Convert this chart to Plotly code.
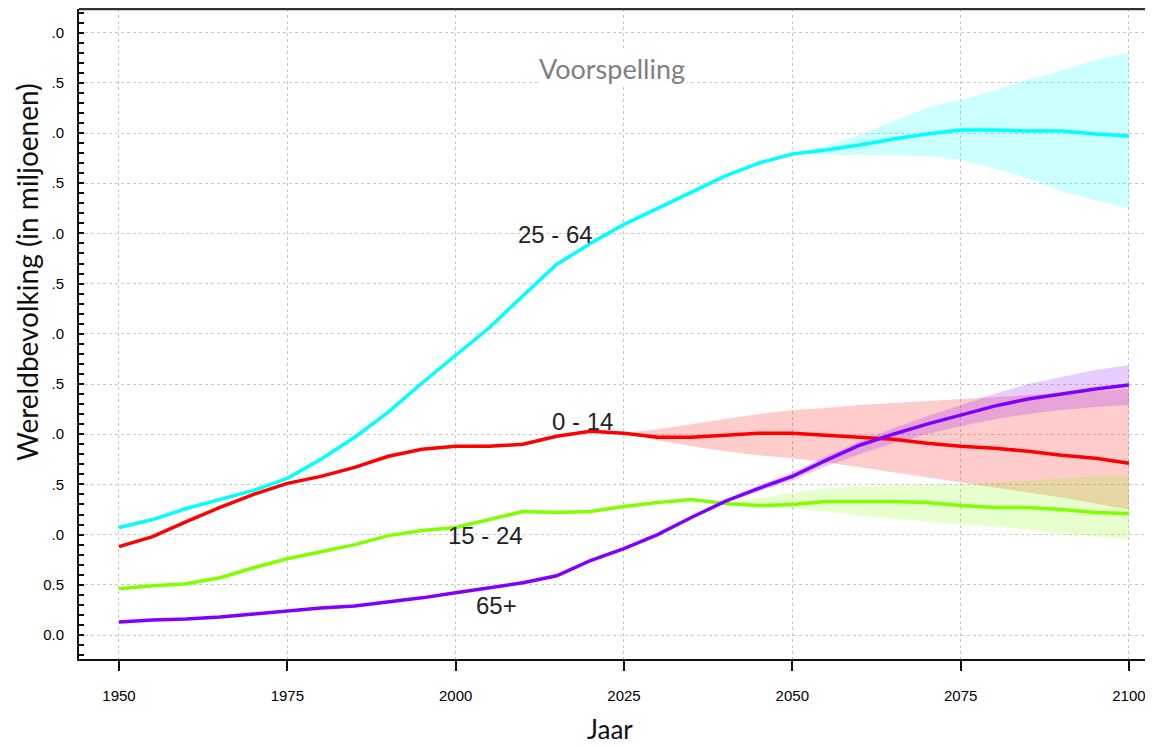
import plotly.graph_objects as go

years = list(range(1950, 2101, 5))

age_25_64 = [1.07, 1.15, 1.26, 1.35, 1.44, 1.56, 1.75, 1.97, 2.22, 2.51, 2.79, 3.06, 3.38, 3.69, 3.90,
             4.09, 4.25, 4.41, 4.57, 4.70, 4.79, 4.83, 4.88, 4.94, 4.99, 5.03, 5.03, 5.02, 5.02, 4.99, 4.97]
age_0_14 = [0.88, 0.98, 1.13, 1.27, 1.40, 1.51, 1.58, 1.67, 1.78, 1.85, 1.88, 1.88, 1.90, 1.98, 2.03,
            2.01, 1.97, 1.97, 1.99, 2.01, 2.01, 1.99, 1.97, 1.95, 1.91, 1.88, 1.86, 1.83, 1.79, 1.76, 1.71]
age_15_24 = [0.46, 0.49, 0.51, 0.57, 0.67, 0.76, 0.83, 0.90, 0.99, 1.04, 1.07, 1.15, 1.23, 1.22, 1.23,
             1.28, 1.32, 1.35, 1.31, 1.29, 1.30, 1.33, 1.33, 1.33, 1.32, 1.29, 1.27, 1.27, 1.25, 1.22, 1.21]
age_65 = [0.13, 0.15, 0.16, 0.18, 0.21, 0.24, 0.27, 0.29, 0.33, 0.37, 0.42, 0.47, 0.52, 0.59, 0.74,
          0.86, 1.00, 1.17, 1.33, 1.46, 1.58, 1.74, 1.89, 2.00, 2.10, 2.19, 2.28, 2.35, 2.40, 2.45, 2.49]

# projection bands
band_years_25_64 = list(range(2050, 2101, 5))
upper_25_64 = [4.79, 4.87, 4.98, 5.12, 5.25, 5.33, 5.42, 5.53, 5.62, 5.73, 5.80]
lower_25_64 = [4.79, 4.78, 4.78, 4.78, 4.77, 4.73, 4.65, 4.55, 4.42, 4.33, 4.25]

band_years_0_14 = list(range(2025, 2101, 5))
upper_0_14 = [2.01, 2.05, 2.10, 2.15, 2.20, 2.24, 2.26, 2.29, 2.31, 2.33, 2.35, 2.37, 2.39, 2.41, 2.43, 2.45]
lower_0_14 = [2.01, 1.94, 1.88, 1.83, 1.79, 1.76, 1.72, 1.67, 1.62, 1.57, 1.52, 1.47, 1.42, 1.37, 1.31, 1.25]

band_years_15_24 = list(range(2040, 2101, 5))
upper_15_24 = [1.31, 1.36, 1.42, 1.46, 1.48, 1.49, 1.50, 1.50, 1.52, 1.54, 1.56, 1.58, 1.59]
lower_15_24 = [1.31, 1.27, 1.26, 1.23, 1.19, 1.16, 1.13, 1.10, 1.08, 1.05, 1.01, 0.98, 0.96]

band_years_65 = list(range(2040, 2101, 5))
upper_65 = [1.34, 1.49, 1.62, 1.78, 1.93, 2.06, 2.18, 2.29, 2.40, 2.50, 2.57, 2.64, 2.69]
lower_65 = [1.32, 1.43, 1.54, 1.68, 1.80, 1.91, 2.00, 2.08, 2.15, 2.20, 2.24, 2.27, 2.29]

x_ticks = [1950, 1975, 2000, 2025, 2050, 2075, 2100]
y_ticks = [0.0, 0.5, 1.0, 1.5, 2.0, 2.5, 3.0, 3.5, 4.0, 4.5, 5.0, 5.5, 6.0]
y_ticktext = ["0.0", "0.5", ".0", ".5", ".0", ".5", ".0", ".5", ".0", ".5", ".0", ".5", ".0"]

series = [
    ("25 - 64", age_25_64, "#00ffff", band_years_25_64, upper_25_64, lower_25_64, "rgba(0,255,255,0.2)"),
    ("0 - 14", age_0_14, "#ff0000", band_years_0_14, upper_0_14, lower_0_14, "rgba(255,0,0,0.2)"),
    ("15 - 24", age_15_24, "#80ff00", band_years_15_24, upper_15_24, lower_15_24, "rgba(128,255,0,0.2)"),
    ("65+", age_65, "#8000ff", band_years_65, upper_65, lower_65, "rgba(128,0,255,0.2)"),
]

fig = go.Figure()
for name, vals, col, by, up, lo, fcol in series:
    fig.add_trace(go.Scatter(x=by + by[::-1], y=up + lo[::-1], fill="toself", fillcolor=fcol,
                             line=dict(width=0), mode="lines", hoverinfo="skip", showlegend=False))
for name, vals, col, by, up, lo, fcol in series:
    fig.add_trace(go.Scatter(x=years, y=vals, mode="lines", line=dict(color=col, width=3.5),
                             name=name, showlegend=False))

label_pos = {"25 - 64": (2014.8, 3.99), "0 - 14": (2018.9, 2.13), "15 - 24": (2004.5, 0.99), "65+": (2006.1, 0.29)}
for name, (lx, ly) in label_pos.items():
    fig.add_annotation(x=lx, y=ly, text=name, showarrow=False, xanchor="center", yanchor="middle",
                       font=dict(family="Liberation Sans, Arial", size=24, color="#222222"))

# plot area in figure pixels: x 71..1145, y 1..651 (page body has an 8px margin)
PW, PH = 1074, 650
def px(xp):
    return (xp - 8 - 71) / PW
def py(yp):
    return (651 - (yp - 8)) / PH

fig.add_annotation(xref="paper", yref="paper", x=px(612), y=py(68), text="Voorspelling", showarrow=False,
                   xanchor="center", yanchor="middle", bgcolor="white",
                   font=dict(family="Lato, Open Sans", size=27, color="#808080"))
fig.add_annotation(xref="paper", yref="paper", x=px(610), y=py(729), text="Jaar", showarrow=False,
                   xanchor="center", yanchor="middle",
                   font=dict(family="Lato, Open Sans", size=26, color="#111111"))
fig.add_annotation(xref="paper", yref="paper", x=px(27), y=py(272), text="Wereldbevolking (in miljoenen)",
                   textangle=-90, showarrow=False, xanchor="center", yanchor="middle",
                   font=dict(family="Lato, Open Sans", size=28, color="#111111"))

fig.add_shape(type="line", xref="paper", yref="paper", x0=0, x1=1, y0=1, y1=1,
              line=dict(color="#333333", width=2.5))

grid = dict(showgrid=True, gridcolor="#c8c8c8", gridwidth=1, griddash="3px,3px")
fig.update_xaxes(range=[1944.06, 2103.57], tickvals=x_ticks, ticks="outside", ticklen=10, tickwidth=2,
                 tickcolor="#111111", showline=True, linecolor="#111111", linewidth=2, zeroline=False,
                 ticklabelstandoff=12, automargin=False,
                 tickfont=dict(family="Liberation Sans, Arial", size=15, color="#000000"), **grid)
fig.update_yaxes(range=[-0.239, 6.235], tickvals=y_ticks, ticktext=y_ticktext, ticks="inside", ticklen=5,
                 tickwidth=2, tickcolor="#111111", showline=True, linecolor="#111111", linewidth=2,
                 zeroline=False, ticklabelstandoff=10, automargin=False,
                 minor=dict(ticks="inside", dtick=0.1, ticklen=5, tickwidth=1.5, tickcolor="#111111", showgrid=False),
                 tickfont=dict(family="Liberation Sans, Arial", size=15, color="#000000"), **grid)

fig.update_layout(width=1145, height=739, margin=dict(l=71, r=0, t=1, b=88, pad=0),
                  plot_bgcolor="white", paper_bgcolor="white", showlegend=False)

fig.write_html("out.html")
